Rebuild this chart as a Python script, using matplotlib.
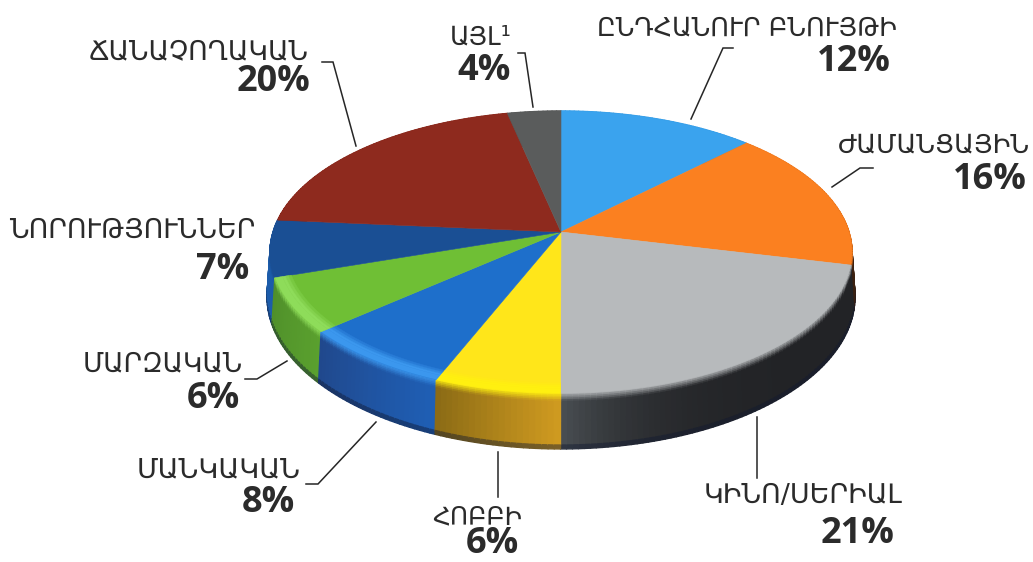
import numpy as np
import matplotlib
matplotlib.use("Agg")
import matplotlib.pyplot as plt
from matplotlib.collections import PolyCollection
from matplotlib.colors import to_rgb

# ---- data ----
categories = ["ԸՆԴՀԱՆՈՒՐ ԲՆՈՒՅԹԻ", "ԺԱՄԱՆՑԱՅԻՆ", "ԿԻՆՈ/ՍԵՐԻԱԼ", "ՀՈԲԲԻ", "ՄԱՆԿԱԿԱՆ",
              "ՄԱՐԶԱԿԱՆ", "ՆՈՐՈՒԹՅՈՒՆՆԵՐ", "ՃԱՆԱՉՈՂԱԿԱՆ", "ԱՅԼ¹"]
percent_labels = [12, 16, 21, 6, 8, 6, 7, 20, 4]
# slice sizes as drawn in the picture (they differ slightly from the printed labels)
drawn_shares = [12.5, 16.2, 21.3, 6.1, 7.5, 6.25, 6.5, 20.2, 3.4]

# ---- styles ----
top_colors = ["#3AA3EE", "#FB8020", "#B7BABC", "#FFE61A", "#1E6FCB", "#6FBF35", "#1A4F94", "#8E2A1E", "#5A5C5C"]
rim_colors = ["#3AA3EE", "#FB8020", "#B7BABC", "#FFF010", "#3B97EE", "#8EDC5A", "#1A4F94", "#8E2A1E", "#5A5C5C"]
wall_a = ["#1B5C8E", "#6B3510", "#222326", "#D09B20", "#1F5FB5", "#5AA02E", "#1C5CAA", "#5E1C14", "#3A3C3C"]
wall_b = ["#1B5C8E", "#3A2010", "#4A4F53", "#8A6A15", "#20488C", "#4F8F2A", "#1C5CAA", "#5E1C14", "#3A3C3C"]
wall_pow = [1, 1, 6, 1, 1, 1, 1, 1, 1]
has_rim = [False, False, False, True, True, True, False, False, False]

label_xr = [897, 1030, 902, 522, 301, 243, 255, 309, 512]
label_w = [300, 192, 199, 90, 164, 160, 247, 220, 62]
label_y = [28, 146, 496, 517, 470, 364, 231, 52, 38]
pct_xr = [891, 1027, 894, 519, 295, 240, 249, 310, 511]
pct_y = [62, 180, 534, 544, 503, 399, 270, 82, 71]
leaders = [
    [(733, 48), (723, 48), (691, 119)],
    [(873, 168), (860, 168), (832, 187)],
    [(757, 478), (757, 417)],
    [(498, 497), (498, 452)],
    [(306, 484), (318, 484), (376, 422)],
    [(245, 379), (257, 379), (287, 361)],
    [],
    [(322, 62), (333, 62), (356, 146)],
    [(518, 53), (525, 53), (533, 107)],
]

K = 0.142


def disk(theta, r=1.0, z=0.0):
    t = np.radians(theta)
    X, Y = r * np.sin(t), r * np.cos(t)
    w = 1 + K * Y
    xt, yt = 561 + 288 * X / w, 232 - 138.2 * Y / w
    xb, yb = 561 + 291 * X / w, 275.4 - 148.9 * Y / w
    return np.column_stack([xt + (xb - xt) * z, yt + (yb - yt) * z])


def mix(a, b, t):
    a, b = np.array(to_rgb(a)), np.array(to_rgb(b))
    return tuple(a + (b - a) * float(np.clip(t, 0, 1)))


fig = plt.figure(figsize=(10.33, 5.62), dpi=100)
ax = fig.add_axes([0, 0, 1, 1])
ax.set_xlim(0, 1033)
ax.set_ylim(562, 0)
ax.axis("off")

shares = np.array(drawn_shares, dtype=float)
edges = np.concatenate([[0], np.cumsum(shares) / shares.sum() * 360])

# side wall: narrow columns, back to front
zs = [0, 0.03, 0.06, 0.09, 0.12, 0.15, 0.5, 0.93, 1.0]
polys, cols, keys = [], [], []
for i in range(len(shares)):
    a0, a1 = edges[i], edges[i + 1]
    n = max(int((a1 - a0)), 2)
    th = np.linspace(a0, a1, n + 1)
    for j in range(n):
        t = ((th[j] + th[j + 1]) / 2 - a0) / (a1 - a0)
        wc = mix(wall_a[i], wall_b[i], t ** wall_pow[i])
        for q in range(len(zs) - 1):
            z0, z1 = zs[q], zs[q + 1]
            pa = disk(th[j:j + 2], 1, z0)
            pb = disk(th[j:j + 2], 1, z1)
            polys.append(np.vstack([pa, pb[::-1]]))
            zm = (z0 + z1) / 2
            c = mix(rim_colors[i] if has_rim[i] else top_colors[i], wc, zm / 0.15)
            if zm > 0.9:
                c = mix(c, "#101830", 0.45)
            cols.append(c)
            keys.append(np.cos(np.radians(th[j])))
order = np.argsort(-np.array(keys), kind="stable")
ax.add_collection(PolyCollection([polys[o] for o in order], facecolors=[cols[o] for o in order],
                                 edgecolors=[cols[o] for o in order], linewidths=1.0, zorder=2))

# top surface
apex = disk(np.array([0.0]), 0.0)
for i in range(len(shares)):
    arc = disk(np.linspace(edges[i], edges[i + 1], 80))
    ax.fill(*np.vstack([apex, arc]).T, color=top_colors[i], lw=0.4, zorder=3)
    if has_rim[i]:
        rs = [0.945, 0.955, 0.965, 0.975, 1.0]
        for q in range(len(rs) - 1):
            th = np.linspace(edges[i], edges[i + 1], 40)
            ring = np.vstack([disk(th, rs[q]), disk(th, rs[q + 1])[::-1]])
            ax.fill(*ring.T, color=mix(top_colors[i], rim_colors[i], (q + 1) / 3), lw=0.3, zorder=4)

# labels and leader lines
renderer = fig.canvas.get_renderer()
for i, name in enumerate(categories):
    t = ax.text(label_xr[i], label_y[i], name, ha="right", va="center", color="#2b2b2b",
                family="DejaVu Sans", fontsize=18, zorder=6)
    w = t.get_window_extent(renderer).width
    t.set_fontsize(18 * label_w[i] / w)
    ax.text(pct_xr[i], pct_y[i], f"{percent_labels[i]}%", ha="right", va="center", color="#2b2b2b",
            family="Open Sans", weight="bold", fontsize=26, zorder=6)
    if leaders[i]:
        ax.plot(*np.array(leaders[i]).T, color="#262626", lw=1.1, zorder=5, solid_joinstyle="miter")

fig.savefig("out.png", dpi=100)
